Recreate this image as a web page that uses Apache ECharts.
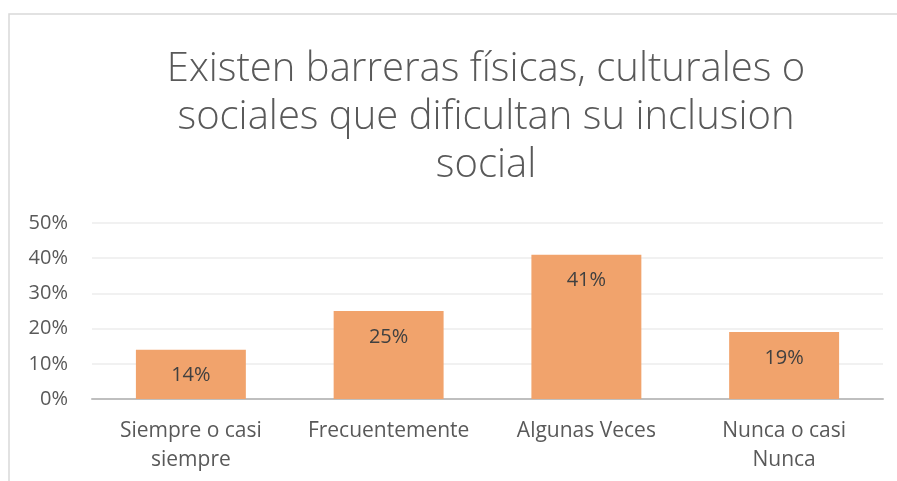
<!DOCTYPE html>
<html>
<head>
<meta charset="utf-8">
<script src="https://cdn.jsdelivr.net/npm/echarts@6/dist/echarts.min.js"></script>
<style>html,body{margin:0;padding:0;background:#fff}#c{width:897px;height:481px}</style>
</head>
<body>
<div id="c"></div>
<script>
const titleLines = ["Existen barreras físicas, culturales o", "sociales que dificultan su inclusion", "social"];
const categories = ["Siempre o casi\nsiempre", "Frecuentemente", "Algunas Veces", "Nunca o casi\nNunca"];
const values = [14, 25, 41, 19];
const yTicks = { min: 0, max: 50, interval: 10 };

const chart = echarts.init(document.getElementById('c'), null, { renderer: 'canvas' });
const FONT = "'Open Sans', sans-serif";
chart.setOption({
  animation: false,
  backgroundColor: '#ffffff',
  graphic: [
    { type: 'rect', shape: { x: 9, y: 14, width: 1000, height: 1000 }, style: { fill: 'none', stroke: '#d9d9d9', lineWidth: 1.5 }, silent: true, z: -10 },
    { type: 'text', x: 486, y: 46, style: { text: titleLines.join('\n'), align: 'center', verticalAlign: 'top', fontFamily: FONT, fontWeight: 300, fontSize: 40, lineHeight: 48, fill: '#595959' } }
  ],
  grid: { left: 92, right: 14, top: 223, bottom: 82, containLabel: false },
  xAxis: {
    type: 'category',
    data: categories,
    axisTick: { show: false },
    axisLine: { lineStyle: { color: '#bfbfbf', width: 2 } },
    axisLabel: { color: '#595959', fontFamily: FONT, fontSize: 21, lineHeight: 29, margin: 18, interval: 0 }
  },
  yAxis: {
    type: 'value',
    min: yTicks.min, max: yTicks.max, interval: yTicks.interval,
    axisLine: { show: false },
    axisTick: { show: false },
    splitLine: { lineStyle: { color: '#ededed', width: 1.5 } },
    axisLabel: { formatter: '{value}%', color: '#595959', fontFamily: FONT, fontSize: 20, margin: 24 }
  },
  series: [{
    type: 'bar',
    data: values,
    barWidth: '55.6%',
    itemStyle: { color: '#F1A36C' },
    label: { show: true, position: 'insideTop', distance: 16, formatter: '{c}%', color: '#404040', fontFamily: FONT, fontSize: 20 }
  }]
});
</script>
</body>
</html>
